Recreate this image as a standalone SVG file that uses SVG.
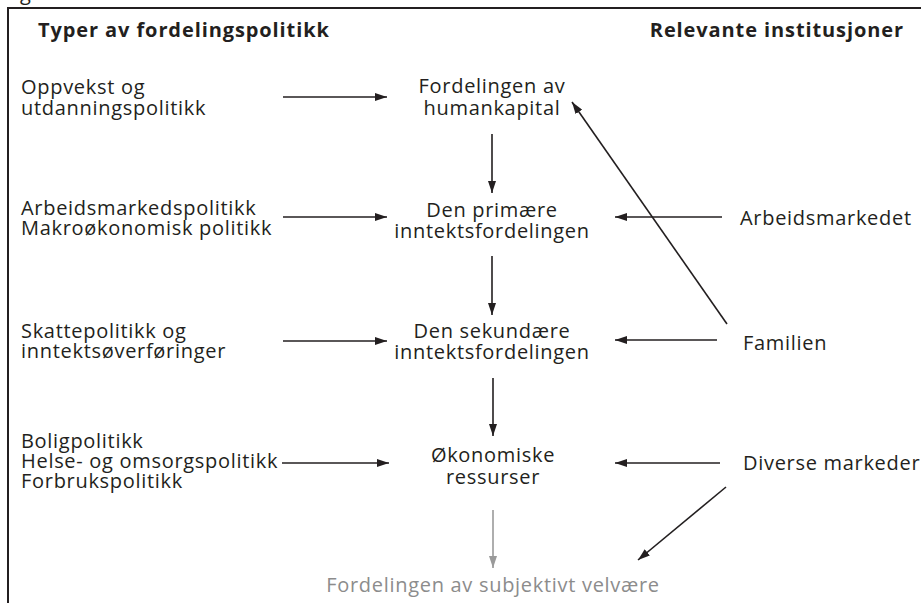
<svg xmlns="http://www.w3.org/2000/svg" width="921" height="603" viewBox="0 0 921 603">
<defs>
<style>
text{font-family:"Open Sans","Liberation Sans",sans-serif;font-size:20px;letter-spacing:0.7px;fill:#231f20}
.h{font-weight:bold;letter-spacing:0.9px}
.c{text-anchor:middle}
.g{fill:#8c8c8c}
.ln{stroke:#231f20;stroke-width:1.6;fill:none}
.lg{stroke:#9a9a9a;stroke-width:1.6;fill:none}
</style>
<marker id="ah" viewBox="0 0 12 8" refX="12" refY="4" markerWidth="12" markerHeight="8" markerUnits="userSpaceOnUse" orient="auto"><path d="M0,0 L12,4 L0,8 Z" fill="#231f20"/></marker>
<marker id="ahg" viewBox="0 0 12 8" refX="12" refY="4" markerWidth="12" markerHeight="8" markerUnits="userSpaceOnUse" orient="auto"><path d="M0,0 L12,4 L0,8 Z" fill="#9a9a9a"/></marker>
</defs>
<rect width="921" height="603" fill="#fff"/>
<text x="20" y="0">g</text>
<path d="M8,603 V8 H921" stroke="#231f20" stroke-width="2" fill="none"/>
<g id="headings">
<text class="h" x="38" y="37">Typer av fordelingspolitikk</text>
<text class="h" x="904" y="37" text-anchor="end">Relevante institusjoner</text>
</g>
<g id="pol-oppvekst"><text x="21" y="94">Oppvekst og</text><text x="21" y="115">utdanningspolitikk</text></g>
<g id="pol-arbeid"><text x="21" y="215">Arbeidsmarkedspolitikk</text><text x="21" y="235">Makroøkonomisk politikk</text></g>
<g id="pol-skatt"><text x="21" y="338">Skattepolitikk og</text><text x="21" y="358">inntektsøverføringer</text></g>
<g id="pol-bolig"><text x="21" y="448">Boligpolitikk</text><text x="21" y="468">Helse- og omsorgspolitikk</text><text x="21" y="488">Forbrukspolitikk</text></g>
<g id="humankapital"><text class="c" x="492" y="93">Fordelingen av</text><text class="c" x="492" y="115">humankapital</text></g>
<g id="primaer"><text class="c" x="492" y="217">Den primære</text><text class="c" x="492" y="238">inntektsfordelingen</text></g>
<g id="sekundaer"><text class="c" x="492" y="338">Den sekundære</text><text class="c" x="492" y="359">inntektsfordelingen</text></g>
<g id="ressurser"><text class="c" x="493" y="462">Økonomiske</text><text class="c" x="493" y="484">ressurser</text></g>
<g id="velvaere"><text class="c g" x="493" y="592">Fordelingen av subjektivt velvære</text></g>
<g id="arbeidsmarkedet"><text x="740" y="225">Arbeidsmarkedet</text></g>
<g id="familien"><text x="743" y="350">Familien</text></g>
<g id="diverse"><text x="743" y="470">Diverse markeder</text></g>
<g id="connectors">
<line class="ln" x1="283" y1="97" x2="387" y2="97" marker-end="url(#ah)"/>
<line class="ln" x1="283" y1="217" x2="387" y2="217" marker-end="url(#ah)"/>
<line class="ln" x1="283" y1="341" x2="387" y2="341" marker-end="url(#ah)"/>
<line class="ln" x1="282" y1="463" x2="389" y2="463" marker-end="url(#ah)"/>
<line class="ln" x1="492" y1="134" x2="492" y2="193" marker-end="url(#ah)"/>
<line class="ln" x1="492" y1="256" x2="492" y2="315" marker-end="url(#ah)"/>
<line class="ln" x1="493" y1="378" x2="493" y2="436" marker-end="url(#ah)"/>
<line class="lg" x1="493" y1="510" x2="493" y2="568" marker-end="url(#ahg)"/>
<line class="ln" x1="722" y1="217" x2="615" y2="217" marker-end="url(#ah)"/>
<line class="ln" x1="717" y1="340" x2="615" y2="340" marker-end="url(#ah)"/>
<line class="ln" x1="720" y1="463" x2="615" y2="463" marker-end="url(#ah)"/>
<line class="ln" x1="727" y1="324" x2="572" y2="102" marker-end="url(#ah)"/>
<line class="ln" x1="726" y1="487" x2="638" y2="560" marker-end="url(#ah)"/>
</g>
</svg>
